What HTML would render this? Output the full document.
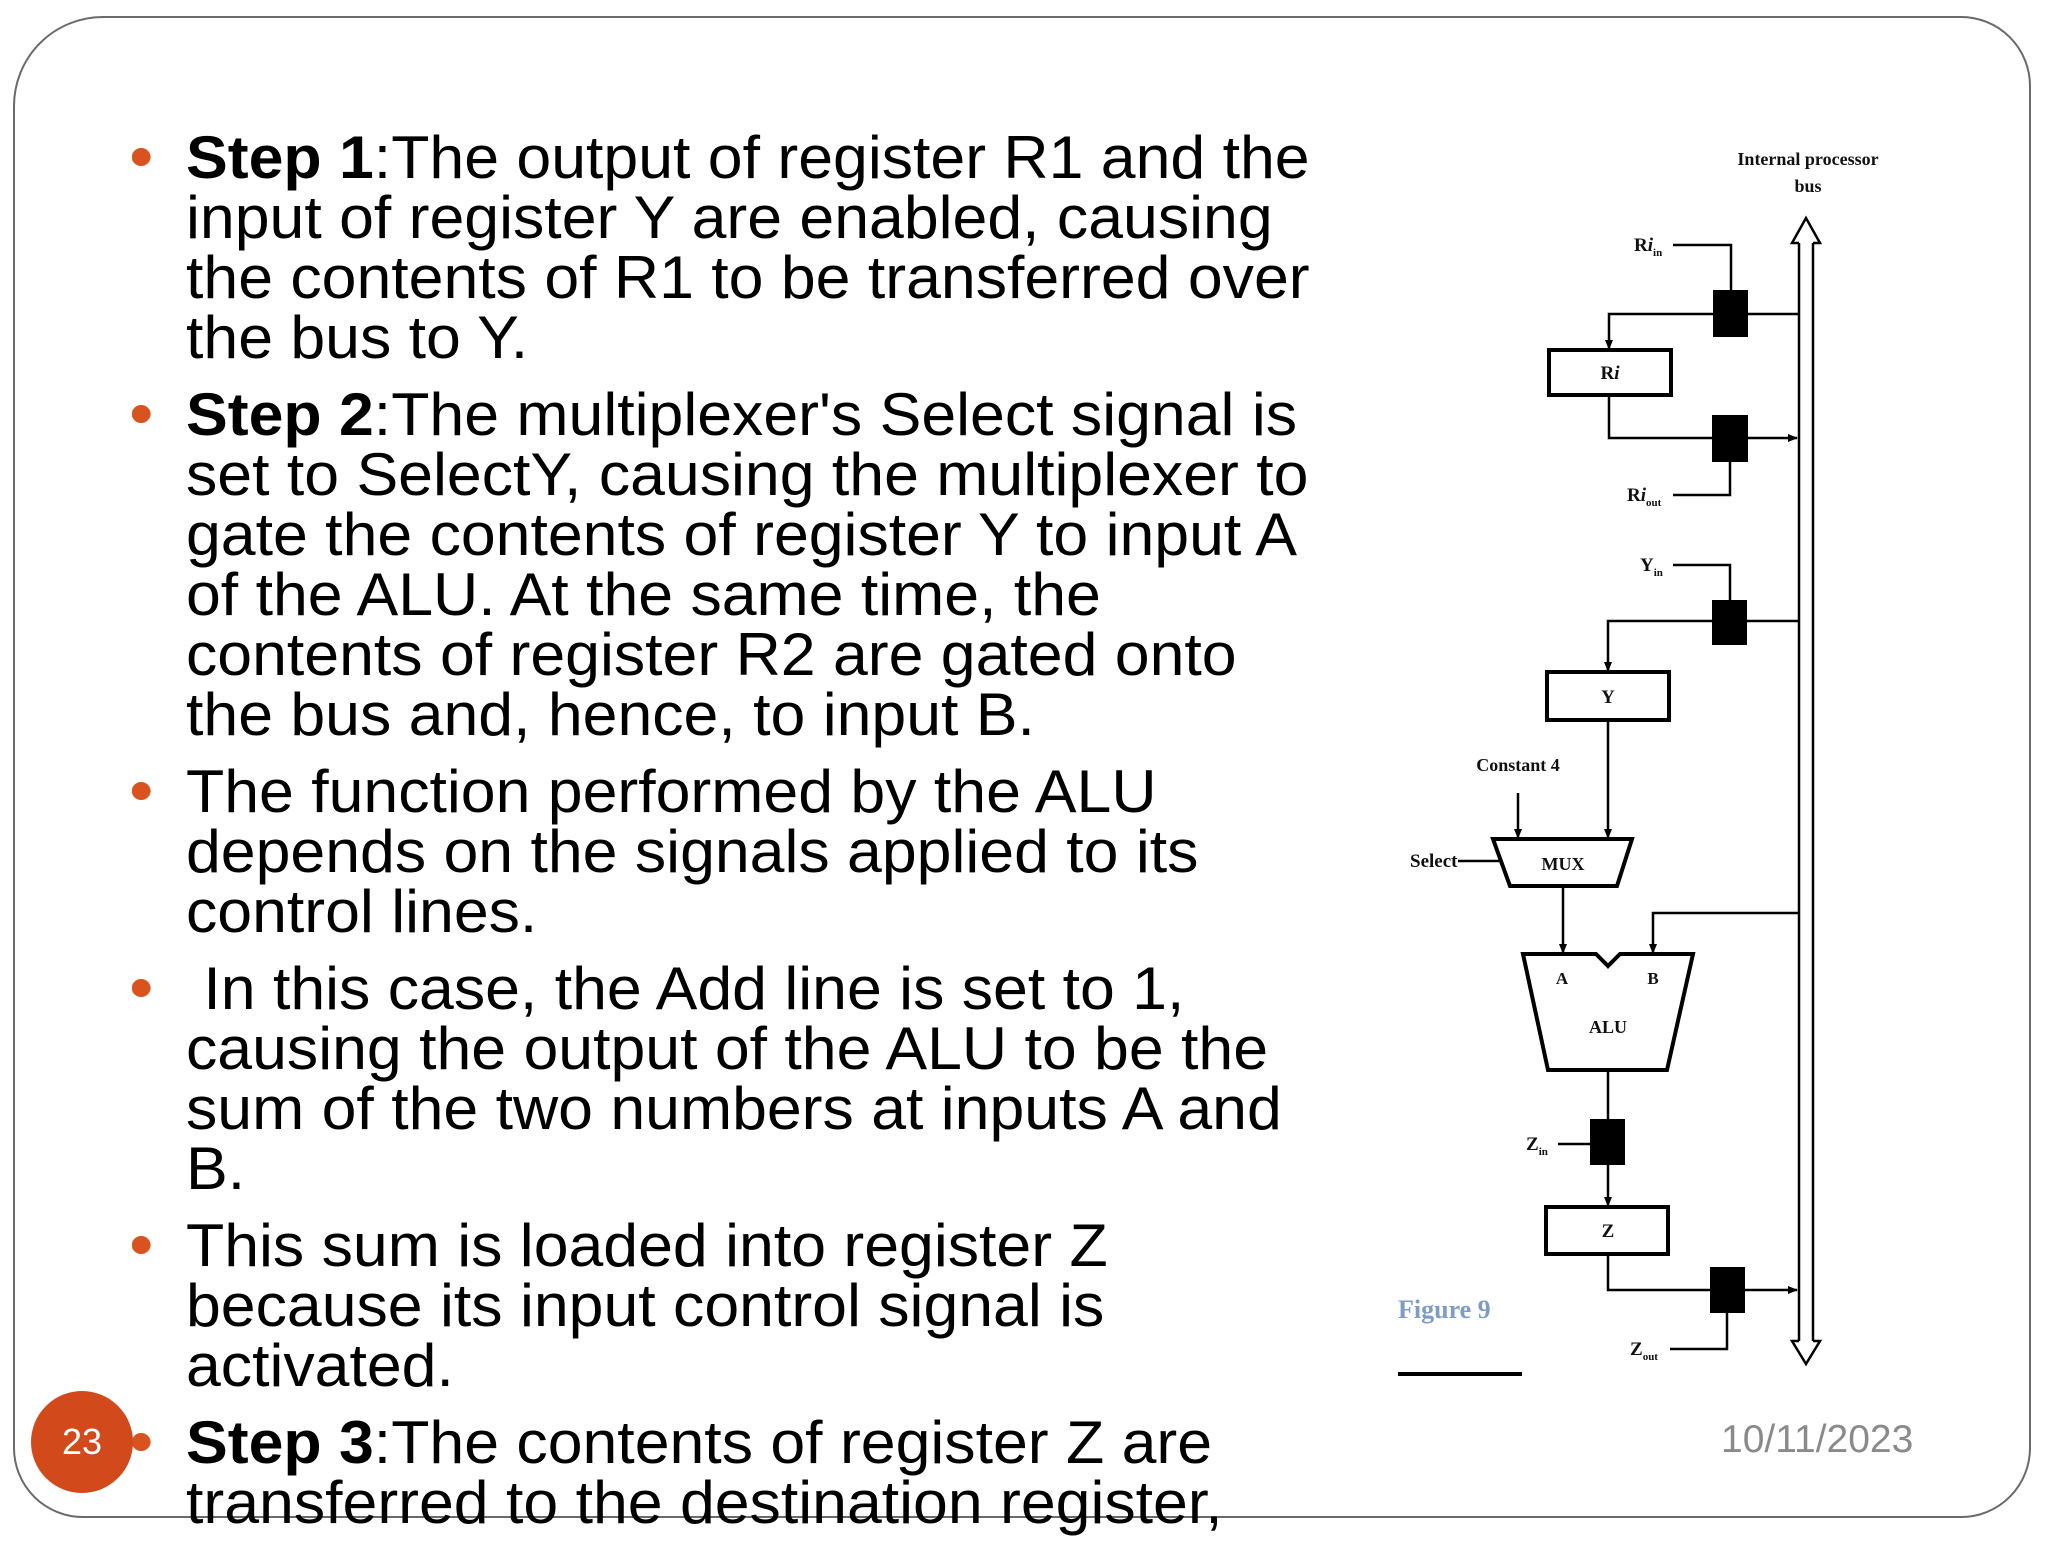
<!DOCTYPE html>
<html><head><meta charset="utf-8"><style>
html,body{margin:0;padding:0;background:#fff}
body{width:2048px;height:1536px;position:relative;overflow:hidden;font-family:"Liberation Sans",Arial,sans-serif}
.frame{position:absolute;left:13px;top:16px;width:2018px;height:1502px;border:2px solid #6a6a6a;border-radius:90px 70px 70px 70px;box-sizing:border-box}
.txt{position:absolute;left:186px;top:128px;font-size:60px;line-height:60px;color:#000;white-space:nowrap;transform:scaleX(1.043);transform-origin:0 0}
.p{position:relative;margin-bottom:17px}
.p:before{content:"";position:absolute;left:-52px;top:20px;width:18px;height:18px;border-radius:50%;background:#d9531e}
b{font-weight:bold}
.num{position:absolute;left:31px;top:1391px;width:102px;height:102px;border-radius:50%;background:#d24a1c;color:#fff;font-size:36px;line-height:102px;text-align:center}
.date{position:absolute;left:1721px;top:1418px;font-size:39px;color:#8a8a8a}
svg{position:absolute;left:0;top:0}
</style></head><body>
<div class="frame"></div>
<div class="txt">
<div class="p"><b>Step 1</b>:The output of register R1 and the<br>input of register Y are enabled, causing<br>the contents of R1 to be transferred over<br>the bus to Y.</div>
<div class="p"><b>Step 2</b>:The multiplexer's Select signal is<br>set to SelectY, causing the multiplexer to<br>gate the contents of register Y to input A<br>of the ALU. At the same time, the<br>contents of register R2 are gated onto<br>the bus and, hence, to input B.</div>
<div class="p">The function performed by the ALU<br>depends on the signals applied to its<br>control lines.</div>
<div class="p">&nbsp;In this case, the Add line is set to 1,<br>causing the output of the ALU to be the<br>sum of the two numbers at inputs A and<br>B.</div>
<div class="p">This sum is loaded into register Z<br>because its input control signal is<br>activated.</div>
<div class="p"><b>Step 3</b>:The contents of register Z are<br>transferred to the destination register,</div>
</div>
<div class="num">23</div>
<div class="date">10/11/2023</div>
<svg width="2048" height="1536" viewBox="0 0 2048 1536" font-family="Liberation Serif,serif" font-weight="bold" font-size="19">
<defs><marker id="a" markerWidth="10" markerHeight="12" refX="9" refY="6" orient="auto" markerUnits="userSpaceOnUse"><path d="M0,2 L10,6 L0,10z" fill="#000"/></marker></defs>
<g stroke="#000" stroke-width="2.5" fill="none">
<path d="M1799,243 L1799,1341 M1813,243 L1813,1341"/>
<path d="M1799,243 L1792,243 L1806,218 L1820,243 L1813,243" fill="#fff"/>
<path d="M1799,1341 L1792,1341 L1806,1364 L1820,1341 L1813,1341" fill="#fff"/>
<path d="M1673,245 L1731,245 L1731,290"/>
<path d="M1799,314 L1609,314 L1609,349" marker-end="url(#a)"/>
<rect x="1549" y="350" width="122" height="45" stroke-width="4"/>
<path d="M1609,395 L1609,438 L1797,438" marker-end="url(#a)"/>
<path d="M1673,495 L1730,495 L1730,462"/>
<path d="M1673,565 L1730,565 L1730,600"/>
<path d="M1799,621 L1608,621 L1608,671" marker-end="url(#a)"/>
<rect x="1547" y="672" width="122" height="48" stroke-width="4"/>
<path d="M1608,720 L1608,838" marker-end="url(#a)"/>
<path d="M1518,793 L1518,838" marker-end="url(#a)"/>
<path d="M1493,839 L1632,839 L1617,886 L1510,886 Z" stroke-width="4"/>
<path d="M1458,861 L1500,861"/>
<path d="M1563,886 L1563,953" marker-end="url(#a)"/>
<path d="M1799,913 L1653,913 L1653,953" marker-end="url(#a)"/>
<path d="M1523,954 L1596,954 L1608,966 L1620,954 L1693,954 L1667,1070 L1548,1070 Z" stroke-width="4"/>
<path d="M1608,1070 L1608,1120"/>
<path d="M1558,1144 L1590,1144"/>
<path d="M1608,1165 L1608,1206" marker-end="url(#a)"/>
<rect x="1546" y="1207" width="122" height="47" stroke-width="4"/>
<path d="M1608,1254 L1608,1290 L1797,1290" marker-end="url(#a)"/>
<path d="M1670,1349 L1727,1349 L1727,1313"/>
</g>
<g fill="#000">
<rect x="1713" y="290" width="35" height="47"/>
<rect x="1712" y="415" width="36" height="47"/>
<rect x="1712" y="600" width="35" height="45"/>
<rect x="1590" y="1119" width="35" height="46"/>
<rect x="1710" y="1267" width="35" height="46"/>
<rect x="1398" y="1372" width="124" height="4"/>
</g>
<g fill="#111" text-anchor="middle">
<text x="1808" y="165" font-size="18">Internal processor</text>
<text x="1808" y="192" font-size="18">bus</text>
<text x="1610" y="379">R<tspan font-style="italic">i</tspan></text>
<text x="1608" y="703">Y</text>
<text x="1518" y="771" font-size="18">Constant 4</text>
<text x="1563" y="870" font-size="18">MUX</text>
<text x="1562" y="984" font-size="17">A</text>
<text x="1653" y="984" font-size="17">B</text>
<text x="1608" y="1033" font-size="18">ALU</text>
<text x="1608" y="1237">Z</text>
</g>
<g fill="#111">
<text x="1634" y="251">R<tspan font-style="italic">i</tspan><tspan font-size="11" dy="5">in</tspan></text>
<text x="1627" y="501">R<tspan font-style="italic">i</tspan><tspan font-size="11" dy="5">out</tspan></text>
<text x="1640" y="571">Y<tspan font-size="11" dy="5">in</tspan></text>
<text x="1410" y="867" font-size="19">Select</text>
<text x="1526" y="1150">Z<tspan font-size="11" dy="5">in</tspan></text>
<text x="1630" y="1355">Z<tspan font-size="11" dy="5">out</tspan></text>
<text x="1398" y="1318" font-size="26" fill="#7d9cc6">Figure 9</text>
</g>
</svg>
</body></html>
